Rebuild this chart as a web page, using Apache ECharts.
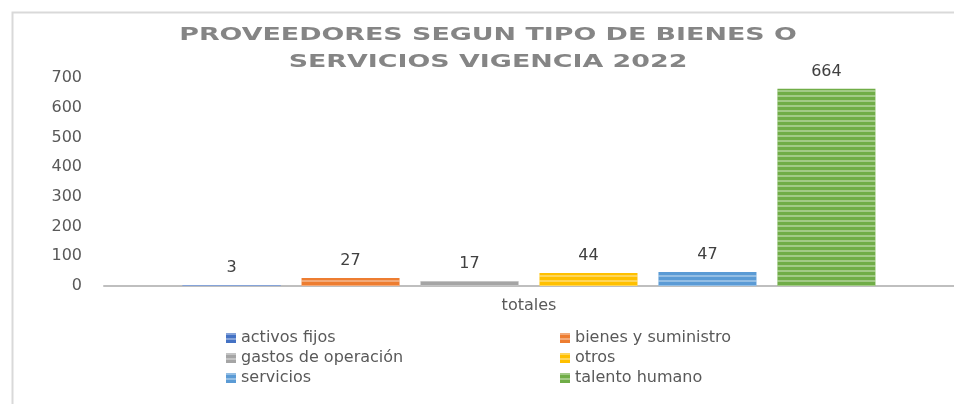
<!DOCTYPE html>
<html>
<head>
<meta charset="utf-8">
<script src="https://cdn.jsdelivr.net/npm/echarts@6/dist/echarts.min.js"></script>
<style>
  html, body { margin: 0; padding: 0; background: #fff; }
  #main { width: 954px; height: 404px; }
</style>
</head>
<body>
<div id="main"></div>
<script>
// datos
const categories = ["totales"];
const seriesNames = [
  "activos fijos",
  "bienes y suministro",
  "gastos de operación",
  "otros",
  "servicios",
  "talento humano",
];
const seriesValues = [3, 27, 17, 44, 47, 664];
const colors = ["#4472C4", "#ED7D31", "#A5A5A5", "#FFC000", "#5B9BD5", "#70AD47"];
const yTicks = [0, 100, 200, 300, 400, 500, 600, 700];
const titleLines = ["PROVEEDORES SEGUN TIPO DE BIENES O", "SERVICIOS VIGENCIA 2022"];

const FONT = "DejaVu Sans";
const myChart = echarts.init(document.getElementById("main"));

const series = seriesNames.map((name, i) => ({
  name: name,
  type: "bar",
  barWidth: 98,
  barGap: "21.4%",
  data: [seriesValues[i]],
  itemStyle: {
    color: colors[i],
    decal: {
      symbol: "rect",
      symbolSize: 1,
      dashArrayX: [1, 0],
      dashArrayY: [2, 3],
      rotation: 0,
      color: "rgba(255,255,255,0.35)",
    },
  },
  label: {
    show: true,
    position: "top",
    distance: 9,
    color: "#404040",
    fontSize: 16,
    fontFamily: FONT,
  },
}));

// titulo en dos lineas, ensanchado para imitar el espaciado de letras
const titleText = (txt, y) => ({
  type: "text",
  x: 488,
  y: y,
  scaleX: 1.58,
  silent: true,
  style: {
    text: txt,
    fill: "#858585",
    font: "bold 17px 'DejaVu Sans'",
    textAlign: "center",
    textVerticalAlign: "middle",
  },
});

const option = {
  animation: false,
  textStyle: { fontFamily: FONT },
  graphic: [
    {
      type: "rect",
      left: 10,
      top: 10,
      shape: { width: 960, height: 420 },
      style: { fill: "none", stroke: "#d9d9d9", lineWidth: 2 },
      silent: true,
    },
    titleText(titleLines[0], 36),
    titleText(titleLines[1], 63),
  ],
  legend: [
    {
      orient: "vertical",
      left: 221,
      top: 325,
      itemWidth: 10,
      itemHeight: 10,
      itemGap: 4,
      icon: "rect",
      data: [seriesNames[0], seriesNames[2], seriesNames[4]],
      textStyle: { color: "#595959", fontSize: 16, fontFamily: FONT },
    },
    {
      orient: "vertical",
      left: 555,
      top: 325,
      itemWidth: 10,
      itemHeight: 10,
      itemGap: 4,
      icon: "rect",
      data: [seriesNames[1], seriesNames[3], seriesNames[5]],
      textStyle: { color: "#595959", fontSize: 16, fontFamily: FONT },
    },
  ],
  grid: {
    left: 104,
    top: 78,
    width: 854,
    height: 208,
  },
  xAxis: {
    type: "category",
    data: categories,
    axisLine: { lineStyle: { color: "#bfbfbf", width: 2 } },
    axisTick: { show: false },
    axisLabel: { color: "#595959", fontSize: 16, margin: 12, fontFamily: FONT },
  },
  yAxis: {
    type: "value",
    min: yTicks[0],
    max: yTicks[yTicks.length - 1],
    interval: 100,
    splitLine: { show: false },
    axisLine: { show: false },
    axisTick: { show: false },
    axisLabel: { color: "#595959", fontSize: 16, margin: 22, fontFamily: FONT },
  },
  series: series,
};

option && myChart.setOption(option);
</script>
</body>
</html>
